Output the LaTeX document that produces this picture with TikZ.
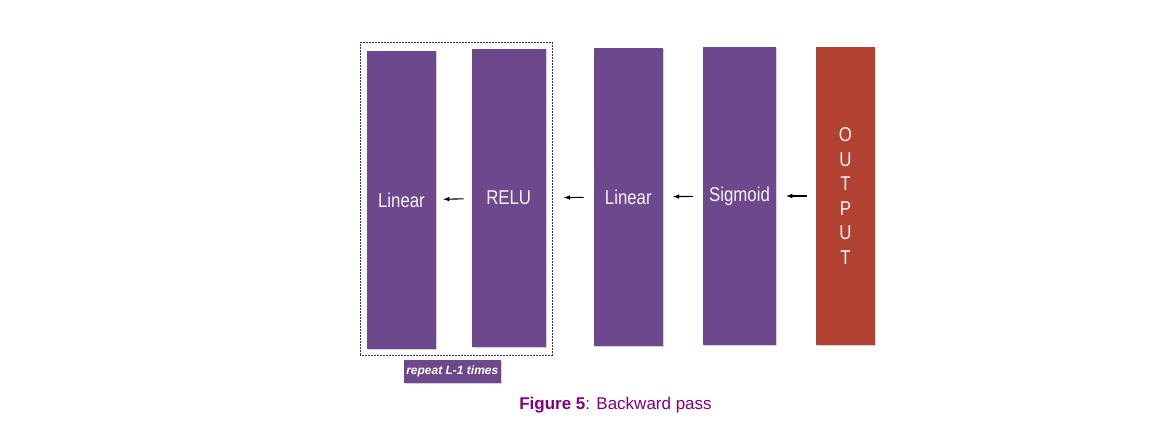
\documentclass[tikz,border=0pt]{standalone}
\usepackage{fontspec}
\setmainfont{Liberation Sans}
\newfontfamily\layerfont[FakeStretch=0.84]{Liberation Sans}
\usetikzlibrary{arrows,shadows,positioning,fit,calc}
\tikzset{>=latex}
\definecolor{layerpurple}{RGB}{110,72,140}
\definecolor{outputred}{RGB}{178,66,50}
\definecolor{captionpurple}{RGB}{128,0,128}
\tikzset{
	layer/.style={fill=layerpurple, text=white!94!layerpurple, font=\layerfont\fontsize{20}{21}\selectfont, minimum height=298pt, inner sep=0pt, drop shadow={shadow xshift=1.2pt, shadow yshift=-1.2pt, opacity=0.35}},
	back/.style={->, line width=1.1pt}
}

\begin{document}
\begin{tikzpicture}[x=1pt, y=-1pt]

	\useasboundingbox (0,0) rectangle (1167,434);

		\node (linear-a) [layer, minimum width=69pt] at (401.5,200) {Linear};
		\node (relu) [layer, minimum width=74pt] at (508.7,198) {RELU};

	\node (repeat-box)[draw=layerpurple!60!black, densely dotted, line width=0.5pt, inner sep=6.5pt, fit={ (linear-a) (relu) }] {};

	\node (repeat) [fill=layerpurple, text=white, font=\fontsize{12}{13}\selectfont\bfseries\itshape, minimum width=97pt, minimum height=23pt, inner sep=0pt, drop shadow={shadow xshift=1pt, shadow yshift=-1pt, opacity=0.35}] at (452.3,371.5) {repeat L-1 times};

	\node (linear-b) [layer, minimum width=69pt] at (628.3,197) {Linear};
	\node (sigmoid) [layer, minimum width=73pt] at (739.5,196) {Sigmoid};
	\node (output) [layer, fill=outputred, minimum width=59pt, align=center, font=\layerfont\fontsize{20}{24.5}\selectfont] at (845.5,196) {O\\U\\T\\P\\U\\T};

	\node (caption) [font=\fontsize{17}{19}\selectfont, text=captionpurple] at (615.5,405.5) {\textbf{Figure 5}: Backward pass};

	\draw[back, shorten >=7pt, shorten <=8pt] (relu) to (linear-a);
	\draw[back, shorten >=18pt, shorten <=10pt] (linear-b) to (relu);
	\draw[back, shorten >=10pt, shorten <=10pt] (sigmoid) to (linear-b);
	\draw[back, shorten >=10pt, shorten <=9pt] (output) to (sigmoid);

	\end{tikzpicture}
\end{document}
